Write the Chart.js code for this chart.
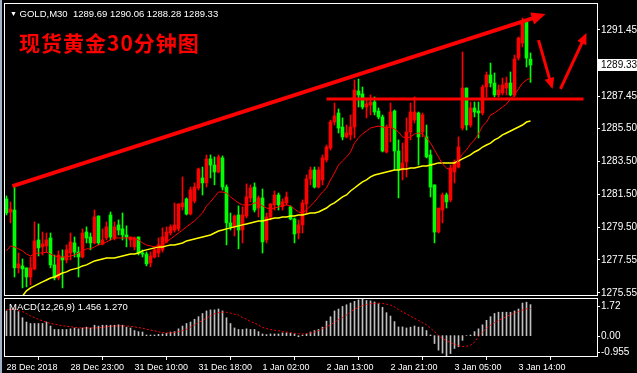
<!DOCTYPE html>
<html>
<head>
<meta charset="utf-8">
<script src="https://cdn.jsdelivr.net/npm/chart.js@4.4.1/dist/chart.umd.min.js"></script>
<style>
  html, body { margin: 0; padding: 0; background: #000; }
  body { width: 637px; height: 373px; position: relative; overflow: hidden; }
  #edge { position: absolute; left: 0; top: 0; width: 2px; height: 373px; background: #9fb3c8; }
  #main { position: absolute; left: 0; top: 0; }
  #macd { position: absolute; left: 0; top: 297px; }
  .txt { position: absolute; white-space: pre; color: #fff; font-family: 'Liberation Sans', Arial, sans-serif; }
  #hdr { left: 10px; top: 8px; font-size: 9.5px; line-height: 11px; }
  #hdr .tri { font-size: 7px; vertical-align: 1px; }
  #title { left: 19px; top: 31px; color: #f00; font: bold 21px/22px 'Noto Sans CJK SC', sans-serif; letter-spacing: 1px; }
  #macdLbl { left: 9px; top: 301px; font-size: 9.5px; line-height: 11px; }
</style>
</head>
<body>
<div id="edge"></div>
<canvas id="main" width="637" height="297"></canvas>
<canvas id="macd" width="637" height="76"></canvas>
<div id="hdr" class="txt"></div>
<div id="title" class="txt">现货黄金30分钟图</div>
<div id="macdLbl" class="txt"></div>

<script>
// ═══════════════════════════════════════════════════════════════
// GOLD M30 – candlestick chart with MAs and MACD
// ═══════════════════════════════════════════════════════════════

// ── Data ───────────────────────────────────────────────────────
const symbol = 'GOLD,M30';

const opens = [
  1281.23,1280.44,1280.56,1277.06,1277.18,1277.06,1276.51,1277.00,1278.75,1278.33,
  1278.39,1278.87,1277.24,1276.45,1277.72,1277.54,1277.96,1278.57,1278.02,1277.72,
  1279.23,1278.93,1278.57,1280.20,1278.51,1278.87,1280.26,1278.87,1279.66,1279.42,
  1279.05,1278.75,1278.33,1278.93,1277.96,1277.90,1277.36,1277.72,1277.96,1278.15,
  1278.63,1279.17,1279.35,1279.42,1280.75,1281.23,1280.32,1281.11,1281.89,1282.50,
  1282.20,1283.65,1283.28,1282.86,1283.71,1281.95,1279.78,1279.54,1280.26,1279.35,
  1280.20,1281.29,1281.95,1280.68,1281.29,1278.75,1280.14,1280.87,1281.47,1280.75,
  1280.99,1280.75,1280.02,1279.17,1279.66,1280.93,1282.44,1282.98,1281.95,1282.38,
  1283.59,1284.31,1285.88,1286.43,1285.58,1284.98,1285.10,1285.58,1287.76,1287.58,
  1286.79,1286.91,1287.09,1286.55,1286.19,1284.07,1285.58,1286.55,1284.13,1282.98,
  1283.47,1285.28,1286.00,1286.43,1285.28,1284.98,1283.89,1282.08,1279.23,1280.56,
  1281.47,1281.17,1282.86,1283.16,1285.52,1287.94,1285.70,1286.73,1286.55,1286.43,
  1288.00,1288.73,1288.24,1287.52,1287.64,1287.94,1288.24,1287.52,1289.75,1290.66,
  1291.93,1289.69
];
const highs = [
  1281.41,1281.05,1281.95,1277.96,1277.60,1277.06,1277.72,1279.84,1279.72,1279.23,
  1279.17,1279.17,1277.84,1278.09,1278.15,1278.45,1279.17,1278.93,1278.33,1279.42,
  1279.54,1279.17,1280.56,1280.20,1279.42,1279.84,1280.44,1279.84,1279.96,1280.38,
  1279.60,1278.93,1278.93,1278.93,1278.15,1278.02,1278.02,1278.33,1278.87,1279.48,
  1279.54,1279.66,1280.99,1280.93,1282.56,1281.29,1281.95,1282.20,1283.10,1283.16,
  1283.89,1283.89,1283.77,1283.89,1283.83,1282.08,1280.38,1280.26,1280.81,1280.75,
  1282.14,1282.08,1282.20,1281.41,1281.83,1280.38,1280.93,1281.71,1281.59,1281.23,
  1281.65,1280.81,1280.08,1279.96,1281.17,1282.68,1283.16,1283.16,1283.16,1283.89,
  1284.49,1286.00,1287.03,1286.67,1286.13,1285.70,1286.31,1288.42,1288.48,1288.00,
  1287.34,1287.52,1287.40,1286.73,1286.31,1285.70,1287.03,1286.61,1284.80,1284.61,
  1286.13,1287.03,1287.40,1286.49,1286.43,1285.70,1284.19,1282.08,1280.68,1281.59,
  1281.59,1283.28,1283.59,1284.98,1290.12,1287.94,1287.09,1287.09,1287.09,1288.12,
  1288.91,1289.45,1288.85,1288.12,1288.54,1288.60,1288.91,1289.93,1291.02,1292.17,
  1292.05,1290.06
];
const lows = [
  1280.26,1279.78,1276.51,1276.75,1275.85,1275.91,1276.03,1276.94,1277.78,1277.84,
  1278.02,1277.06,1276.33,1276.33,1275.85,1277.36,1277.54,1277.72,1276.51,1277.66,
  1278.57,1278.15,1278.51,1278.45,1278.45,1278.75,1278.75,1278.75,1279.05,1278.75,
  1278.33,1278.33,1278.15,1277.84,1277.72,1277.18,1277.12,1277.66,1277.72,1278.02,
  1278.57,1279.05,1279.23,1279.29,1280.56,1280.26,1280.26,1280.99,1281.77,1281.47,
  1281.95,1282.50,1282.08,1282.80,1281.77,1278.45,1279.35,1278.99,1278.21,1278.57,
  1280.08,1281.05,1280.44,1280.14,1277.96,1278.57,1279.96,1280.56,1280.56,1280.56,
  1280.87,1279.96,1278.57,1278.81,1279.17,1280.38,1282.08,1281.89,1281.89,1282.08,
  1283.47,1284.19,1285.70,1285.22,1284.80,1284.92,1284.80,1284.92,1286.79,1286.67,
  1286.13,1286.31,1286.31,1286.07,1284.07,1284.01,1284.68,1282.98,1281.29,1282.38,
  1282.56,1284.80,1285.82,1283.28,1284.98,1283.71,1281.35,1278.57,1279.17,1279.78,
  1280.68,1281.05,1282.20,1283.10,1285.40,1285.40,1285.58,1286.19,1284.92,1286.31,
  1287.40,1288.00,1287.40,1287.40,1287.52,1287.52,1287.46,1287.40,1289.63,1290.42,
  1289.21,1288.28
];
const closes = [
  1280.38,1280.62,1277.06,1277.30,1277.00,1276.51,1277.06,1278.69,1278.27,1278.51,
  1278.75,1277.24,1276.45,1277.84,1277.54,1278.15,1278.63,1278.02,1277.72,1279.17,
  1278.87,1278.57,1280.14,1278.57,1278.75,1279.54,1278.93,1279.54,1279.35,1279.05,
  1278.93,1278.93,1278.87,1277.96,1277.90,1277.30,1277.78,1278.15,1278.45,1278.93,
  1279.23,1279.54,1279.66,1280.93,1280.99,1280.32,1281.77,1281.95,1283.04,1282.20,
  1283.65,1283.28,1282.86,1283.77,1281.95,1279.78,1279.54,1280.20,1279.35,1280.26,
  1281.35,1281.89,1280.56,1281.29,1278.63,1280.14,1280.93,1281.47,1280.87,1281.05,
  1281.35,1280.02,1279.11,1279.66,1280.99,1282.44,1282.98,1281.95,1282.98,1283.71,
  1284.37,1285.88,1286.25,1285.52,1284.98,1285.22,1285.58,1287.82,1287.52,1286.79,
  1286.97,1287.09,1286.49,1286.19,1284.13,1285.58,1286.49,1284.13,1282.98,1283.41,
  1285.28,1286.49,1286.49,1284.98,1286.31,1283.77,1281.95,1279.23,1280.68,1281.47,
  1281.05,1283.10,1283.47,1284.37,1287.94,1285.70,1286.73,1286.49,1286.43,1288.00,
  1288.73,1288.24,1287.52,1287.82,1288.12,1288.24,1287.52,1289.69,1290.96,1291.87,
  1289.75,1289.33
];

// fast MA (red) and slow MA (yellow)
const maFast = [
  1278.09,1278.39,1278.33,1278.21,1278.09,1277.90,1277.78,1277.90,1277.96,1277.96,
  1278.02,1277.90,1277.78,1277.72,1277.72,1277.72,1277.78,1277.84,1277.96,1278.09,
  1278.21,1278.21,1278.33,1278.45,1278.51,1278.63,1278.75,1278.87,1278.87,1278.87,
  1278.87,1278.87,1278.87,1278.75,1278.57,1278.45,1278.39,1278.33,1278.39,1278.45,
  1278.63,1278.81,1278.99,1279.17,1279.35,1279.54,1279.72,1279.90,1280.14,1280.38,
  1280.81,1281.05,1281.35,1281.65,1281.65,1281.59,1281.35,1281.17,1280.99,1280.87,
  1280.87,1280.87,1280.99,1280.99,1280.81,1280.68,1280.62,1280.68,1280.75,1280.81,
  1280.87,1280.81,1280.62,1280.44,1280.38,1280.56,1280.81,1281.05,1281.35,1281.65,
  1281.89,1282.38,1282.80,1283.28,1283.53,1283.77,1284.07,1284.61,1284.92,1285.16,
  1285.34,1285.52,1285.58,1285.64,1285.58,1285.52,1285.58,1285.46,1285.28,1284.98,
  1284.92,1284.98,1285.16,1285.22,1285.16,1284.92,1284.61,1284.19,1283.77,1283.34,
  1283.10,1282.98,1283.22,1283.59,1283.95,1284.19,1284.55,1284.80,1285.16,1285.64,
  1285.88,1286.31,1286.43,1286.61,1286.79,1286.97,1287.27,1287.52,1287.88,1288.24,
  1288.42,1288.54
];
const maSlow = [
  null,null,null,null,1275.36,1275.67,1275.85,1275.97,1276.09,1276.21,
  1276.33,1276.45,1276.51,1276.63,1276.75,1276.82,1276.94,1277.00,1277.06,1277.18,
  1277.24,1277.36,1277.48,1277.54,1277.60,1277.66,1277.66,1277.66,1277.72,1277.78,
  1277.84,1277.90,1277.90,1277.96,1278.09,1278.15,1278.21,1278.27,1278.33,1278.33,
  1278.39,1278.45,1278.45,1278.51,1278.57,1278.69,1278.75,1278.81,1278.87,1278.93,
  1278.99,1279.05,1279.17,1279.29,1279.35,1279.42,1279.48,1279.54,1279.60,1279.66,
  1279.72,1279.78,1279.84,1279.90,1279.90,1279.96,1280.02,1280.08,1280.08,1280.14,
  1280.14,1280.20,1280.20,1280.26,1280.26,1280.32,1280.38,1280.38,1280.44,1280.56,
  1280.68,1280.87,1280.99,1281.17,1281.35,1281.47,1281.71,1281.89,1282.08,1282.26,
  1282.38,1282.56,1282.68,1282.74,1282.80,1282.86,1282.92,1282.98,1282.98,1283.04,
  1283.04,1283.10,1283.10,1283.16,1283.22,1283.22,1283.28,1283.34,1283.41,1283.41,
  1283.41,1283.41,1283.41,1283.53,1283.65,1283.77,1283.89,1284.07,1284.19,1284.37,
  1284.49,1284.61,1284.80,1284.92,1285.10,1285.22,1285.34,1285.46,1285.58,1285.70,
  1285.88,1285.94
];

// MACD(12,26,9): main (histogram) and signal (dotted)
const macdMain = [
  1.16,1.25,1.25,1.13,0.84,0.64,0.57,0.57,0.57,0.57,
  0.64,0.45,0.29,0.29,0.29,0.29,0.32,0.36,0.32,0.36,
  0.40,0.36,0.49,0.45,0.49,0.49,0.49,0.49,0.51,0.49,
  0.40,0.36,0.24,0.19,0.17,0.03,0.03,0.03,0.06,0.08,
  0.11,0.17,0.19,0.32,0.45,0.57,0.64,0.77,0.89,1.04,
  1.16,1.21,1.21,1.25,1.16,0.84,0.57,0.36,0.29,0.29,
  0.32,0.29,0.29,0.19,0.08,0.05,0.08,0.08,0.08,0.13,
  0.13,0.11,0.08,-0.05,0.03,0.08,0.17,0.24,0.29,0.40,
  0.68,0.89,1.16,1.25,1.37,1.45,1.53,1.61,1.68,1.72,
  1.65,1.63,1.58,1.50,1.33,1.08,0.92,0.66,0.41,0.41,
  0.36,0.40,0.45,0.40,0.40,0.24,0.03,-0.37,-0.68,-0.82,
  -0.95,-0.84,-0.60,-0.52,-0.22,0.00,0.03,0.19,0.32,0.51,
  0.72,0.89,1.04,1.10,1.10,1.10,1.10,1.16,1.25,1.53,
  1.57,1.456
];
const macdSignal = [
  1.21,1.24,1.24,1.18,1.13,1.04,0.93,0.85,0.76,0.70,
  0.63,0.57,0.54,0.50,0.47,0.44,0.42,0.39,0.37,0.36,
  0.36,0.36,0.36,0.37,0.39,0.42,0.44,0.45,0.46,0.46,
  0.45,0.44,0.41,0.38,0.35,0.30,0.26,0.23,0.18,0.15,
  0.13,0.13,0.15,0.19,0.24,0.30,0.40,0.50,0.61,0.72,
  0.83,0.93,1.03,1.08,1.10,1.10,1.06,1.00,0.97,0.85,
  0.77,0.66,0.59,0.50,0.39,0.33,0.29,0.25,0.23,0.19,
  0.17,0.15,0.11,0.09,0.08,0.10,0.13,0.17,0.24,0.33,
  0.42,0.50,0.63,0.76,0.85,0.97,1.11,1.24,1.33,1.41,
  1.46,1.50,1.51,1.53,1.51,1.48,1.44,1.35,1.22,1.11,
  1.02,0.91,0.81,0.71,0.61,0.51,0.35,0.19,0.00,-0.13,
  -0.24,-0.32,-0.40,-0.47,-0.51,-0.50,-0.45,-0.30,-0.04,0.17,
  0.35,0.49,0.61,0.71,0.81,0.90,0.98,1.06,1.13,1.20,
  1.26,1.27
];

// axis ticks
const priceTicks = [1275.55, 1277.55, 1279.50, 1281.50, 1283.50, 1285.50, 1287.45, 1291.45];
const macdTicks = [1.72, 0.00, -0.955];
const timeTickIdx = [0, 16, 32, 48, 64, 80, 96, 112, 128];
const timeLabels = ['28 Dec 2018', '28 Dec 23:00', '31 Dec 10:00', '31 Dec 18:00', '1 Jan 02:00',
                    '2 Jan 13:00', '2 Jan 21:00', '3 Jan 05:00', '3 Jan 14:00'];

// hand-drawn objects, in [bar index, price]
const drawnLines = [
  { from: [1.5, 1282.01],   to: [134.75, 1292.41], width: 4, head: 14 },
  { from: [80, 1287.27],    to: [144.25, 1287.27], width: 3, head: 0 },
  { from: [133, 1290.84],   to: [136.5, 1287.88],  width: 3, head: 11 },
  { from: [138.5, 1287.88], to: [145, 1291.26],    width: 3, head: 11 },
];


// ── Setup ──────────────────────────────────────────────────────
const FONT = "'Liberation Sans', Arial, sans-serif";
const RED = '#ff0000', GREEN = '#00ff00', WHITE = '#ffffff';
const X_MIN = -0.375, X_MAX = 147.625;
const last = closes.length - 1;
const idx = closes.map((_, i) => i);
const candleColor = i => closes[i] > opens[i] ? RED : GREEN;

Chart.defaults.font.family = FONT;
Chart.defaults.animation = false;

document.getElementById('hdr').innerHTML = '<span class="tri">▼</span> ' + symbol + '  ' +
  [opens[last], highs[last], lows[last], closes[last]].map(v => v.toFixed(2)).join(' ');
document.getElementById('macdLbl').textContent =
  'MACD(12,26,9) ' + macdMain[last].toFixed(3) + ' ' + macdSignal[last].toFixed(3);


// ── Plugins ────────────────────────────────────────────────────
const framePlugin = {
  id: 'frame',
  afterDraw(chart) {
    const { ctx, chartArea: a } = chart;
    ctx.save();
    ctx.strokeStyle = WHITE;
    ctx.lineWidth = 1;
    ctx.strokeRect(a.left - 0.5, a.top - 0.5, a.right - a.left + 1, a.bottom - a.top + 1);
    ctx.restore();
  }
};

const drawingsPlugin = {
  id: 'drawings',
  afterDatasetsDraw(chart) {
    const { ctx, scales: { x, y } } = chart;
    ctx.save();
    ctx.strokeStyle = RED;
    ctx.fillStyle = RED;
    drawnLines.forEach(l => {
      const x1 = x.getPixelForValue(l.from[0]), y1 = y.getPixelForValue(l.from[1]);
      const x2 = x.getPixelForValue(l.to[0]), y2 = y.getPixelForValue(l.to[1]);
      const len = Math.hypot(x2 - x1, y2 - y1);
      const ux = (x2 - x1) / len, uy = (y2 - y1) / len;
      const ex = x2 - ux * l.head * 0.7, ey = y2 - uy * l.head * 0.7;
      ctx.lineWidth = l.width;
      ctx.beginPath();
      ctx.moveTo(x1, y1);
      ctx.lineTo(l.head ? ex : x2, l.head ? ey : y2);
      ctx.stroke();
      if (l.head) {
        const bx = x2 - ux * l.head, by = y2 - uy * l.head, w = l.head * 0.45;
        ctx.beginPath();
        ctx.moveTo(x2, y2);
        ctx.lineTo(bx - uy * w, by + ux * w);
        ctx.lineTo(bx + uy * w, by - ux * w);
        ctx.closePath();
        ctx.fill();
      }
    });
    ctx.restore();
  },
  afterDraw(chart) {
    // current price marker on the right scale
    const { ctx, chartArea: a, scales: { y } } = chart;
    const py = Math.round(y.getPixelForValue(closes[last]));
    ctx.save();
    ctx.fillStyle = WHITE;
    ctx.fillRect(a.right + 1, py - 6, 40, 12);
    ctx.fillStyle = '#000';
    ctx.font = '10px ' + FONT;
    ctx.textBaseline = 'middle';
    ctx.fillText(closes[last].toFixed(2), a.right + 4, py + 0.5);
    ctx.restore();
  }
};

const macdAxisPlugin = {
  id: 'macdAxis',
  afterDraw(chart) {
    const { ctx, chartArea: a, scales: { y } } = chart;
    ctx.save();
    ctx.fillStyle = WHITE;
    ctx.strokeStyle = WHITE;
    ctx.font = '10px ' + FONT;
    ctx.textBaseline = 'middle';
    macdTicks.forEach(v => {
      const py = Math.round(y.getPixelForValue(v));
      const ty = Math.min(Math.max(py, a.top + 7), a.bottom - 4);
      ctx.beginPath();
      ctx.moveTo(a.right, ty + 0.5);
      ctx.lineTo(a.right + 3, ty + 0.5);
      ctx.stroke();
      ctx.fillText(v.toFixed(v === -0.955 ? 3 : 2), a.right + 4, ty + 0.5);
    });
    ctx.restore();
  }
};


// ── Main price chart ───────────────────────────────────────────
new Chart(document.getElementById('main'), {
  type: 'bar',
  data: {
    datasets: [
      {
        type: 'line', label: 'MA fast',
        data: idx.map(i => ({ x: i, y: maFast[i] })),
        borderColor: RED, borderWidth: 1, pointRadius: 0, tension: 0
      },
      {
        type: 'line', label: 'MA slow',
        data: idx.map(i => ({ x: i, y: maSlow[i] })),
        borderColor: '#ffff00', borderWidth: 1.5, pointRadius: 0, tension: 0
      },
      {
        label: 'Body',
        data: idx.map(i => ({ x: i, y: [opens[i], closes[i]] })),
        backgroundColor: c => candleColor(c.dataIndex),
        barThickness: 3, minBarLength: 1, grouped: false, borderWidth: 0
      },
      {
        label: 'Wick',
        data: idx.map(i => ({ x: i, y: [lows[i], highs[i]] })),
        backgroundColor: c => candleColor(c.dataIndex),
        barThickness: 1, grouped: false, borderWidth: 0
      }
    ]
  },
  options: {
    responsive: false,
    devicePixelRatio: 1,
    layout: { padding: { left: 5, top: 4, right: 0, bottom: 2 } },
    plugins: { legend: { display: false }, tooltip: { enabled: false } },
    scales: {
      x: { type: 'linear', min: X_MIN, max: X_MAX, offset: false, display: false },
      y: {
        position: 'right', min: 1275.42, max: 1293.02,
        afterBuildTicks: s => { s.ticks = priceTicks.map(v => ({ value: v })); },
        afterFit: s => { s.width = 40; s.paddingTop = 0; s.paddingBottom = 0; },
        grid: { drawOnChartArea: false, drawTicks: true, tickLength: 3, color: WHITE },
        border: { display: false },
        ticks: {
          color: WHITE, padding: 1, autoSkip: false,
          font: { family: FONT, size: 10 },
          callback: v => v.toFixed(2)
        }
      }
    }
  },
  plugins: [framePlugin, drawingsPlugin]
});


// ── MACD sub-window ────────────────────────────────────────────
new Chart(document.getElementById('macd'), {
  type: 'bar',
  data: {
    datasets: [
      {
        type: 'line', label: 'Signal',
        data: idx.map(i => ({ x: i, y: macdSignal[i] })),
        borderColor: RED, borderWidth: 1, borderDash: [2, 2], pointRadius: 0, tension: 0
      },
      {
        label: 'MACD',
        data: idx.map(i => ({ x: i, y: macdMain[i] })),
        backgroundColor: '#c0c0c0', barThickness: 1, grouped: false, borderWidth: 0
      }
    ]
  },
  options: {
    responsive: false,
    devicePixelRatio: 1,
    layout: { padding: { left: 5, top: 2, right: 0, bottom: 0 } },
    plugins: { legend: { display: false }, tooltip: { enabled: false } },
    scales: {
      x: {
        type: 'linear', min: X_MIN, max: X_MAX, offset: false,
        afterBuildTicks: s => { s.ticks = timeTickIdx.map(v => ({ value: v })); },
        afterFit: s => { s.height = 17; s.paddingLeft = 0; s.paddingRight = 0; },
        grid: { drawOnChartArea: false, drawTicks: true, tickLength: 4, color: WHITE },
        border: { display: false },
        ticks: {
          color: WHITE, padding: 2, align: 'start', maxRotation: 0, autoSkip: false,
          font: { family: FONT, size: 9 },
          callback: (v, i) => timeLabels[i]
        }
      },
      y: {
        position: 'right', min: -0.955, max: 1.72,
        afterFit: s => { s.width = 40; s.paddingTop = 0; s.paddingBottom = 0; },
        grid: { display: false },
        border: { display: false },
        ticks: { display: false }
      }
    }
  },
  plugins: [framePlugin, macdAxisPlugin]
});
</script>
</body>
</html>
